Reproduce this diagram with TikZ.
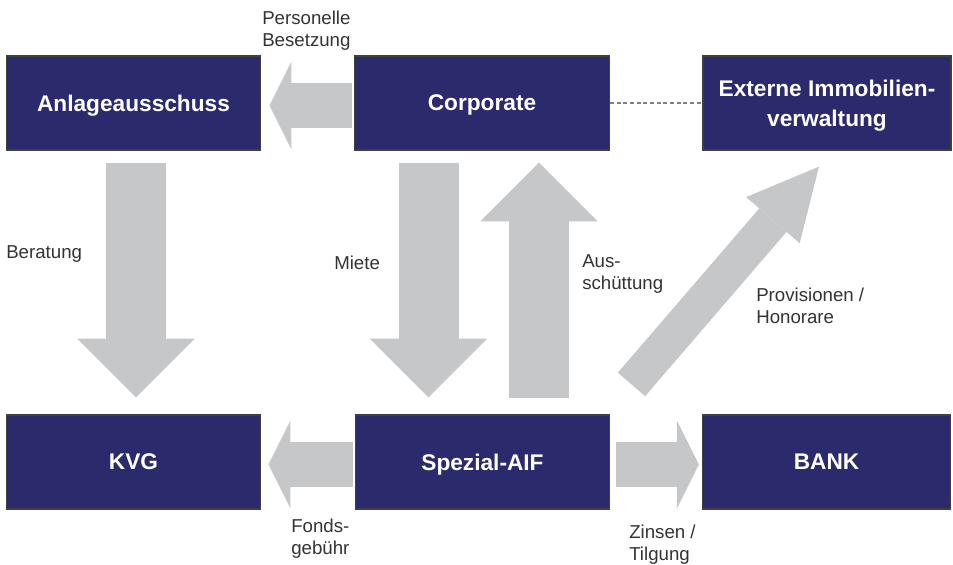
\documentclass[tikz,border=0pt]{standalone}
\usepackage{fontspec}
\setmainfont{Liberation Sans}
\usetikzlibrary{arrows.meta,positioning}
\definecolor{boxnavy}{RGB}{43,42,108}
\definecolor{arrowgray}{RGB}{198,199,201}
\definecolor{labelgray}{RGB}{51,51,51}

\tikzset{
  unit/.style={draw=black!75,line width=0.9pt,fill=boxnavy,text=white,
    font=\bfseries\fontsize{17}{22.5}\selectfont,minimum width=191pt,
    minimum height=70.5pt,inner sep=0pt,align=center,text depth=0pt},
  flowdown/.style={draw=arrowgray,line width=45pt,
    -{Triangle[length=44pt,width=88pt,line width=0pt]}},
  flowside/.style={draw=arrowgray,line width=33.75pt,
    -{Triangle[length=16.5pt,width=66pt,line width=0pt]}},
  flowdiag/.style={draw=arrowgray,line width=27pt,
    -{Triangle[length=53pt,width=53pt,line width=0pt]}},
  lbl/.style={text=labelgray,font=\fontsize{14}{16.5}\selectfont,align=left,inner sep=0pt}
}

\begin{document}
\begin{tikzpicture}[x=0.75pt,y=-0.75pt]
\useasboundingbox (0,0) rectangle (953,564);
% upper row
\node[unit] (anl) at (133.5,103) {Anlageausschuss};
\node[unit] (corp) at (482,103) {Corporate};
\node[unit,minimum width=186pt] (ext) at (827,103) {Externe Immobilien-\\verwaltung};
% lower row
\node[unit] (kvg) at (133.5,462) {KVG};
\node[unit] (aif) at (482.5,462) {Spezial-AIF};
\node[unit,minimum width=186pt] (bank) at (826.5,462) {BANK};
% flows
\draw[flowside] ([shift={(-2,2.5)}]corp.west) -- ([shift={(8,2.5)}]anl.east);
\draw[flowdown] ([shift={(2.5,12)}]anl.south) -- ([shift={(2.5,-17)}]kvg.north);
\draw[flowdown] ([shift={(-53.5,12)}]corp.south) -- ([shift={(-54,-17)}]aif.north);
\draw[flowdown] ([shift={(56.5,-16)}]aif.north) -- ([shift={(57,12)}]corp.south);
\draw[flowdiag] ([shift={(149,-30)}]aif.north) -- ([shift={(-8,16)}]ext.south);
\draw[flowside] ([shift={(-2,2.5)}]aif.west) -- ([shift={(7,2.5)}]kvg.east);
\draw[flowside] ([shift={(6,2.5)}]aif.east) -- ([shift={(-3,2.5)}]bank.west);
\draw[gray,line width=0.8pt,dash pattern=on 3pt off 2pt] (corp.east) -- (ext.west);
% labels
\node[lbl,anchor=west] (besetzung) at (262,31) {Personelle\\Besetzung};
\node[lbl,anchor=west] (beratung) at (6,254) {Beratung};
\node[lbl,anchor=west] (miete) at (334,263) {Miete};
\node[lbl,anchor=west] (ausschuettung) at (582,274) {Aus-\\schüttung};
\node[lbl,anchor=west] (provision) at (756,306) {Provisionen /\\Honorare};
\node[lbl,anchor=west] (fondsgebuehr) at (291,539) {Fonds-\\gebühr};
\node[lbl,anchor=west] (zinsen) at (629,545) {Zinsen /\\Tilgung};
\end{tikzpicture}
\end{document}
